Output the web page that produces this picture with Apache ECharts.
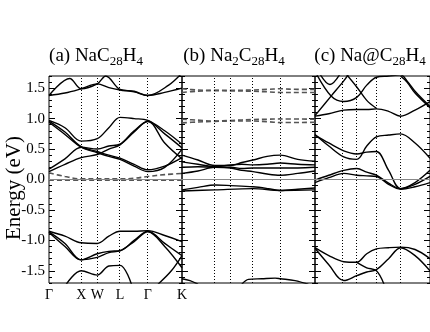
<!DOCTYPE html>
<html>
<head>
<meta charset="utf-8">
<script src="https://cdn.jsdelivr.net/npm/echarts@6/dist/echarts.min.js"></script>
<style>
  html, body { margin: 0; padding: 0; background: #fff; }
  #chart { width: 430px; height: 332px; }
</style>
</head>
<body>
<div id="chart"></div>
<script>
// k-path (fraction of path length) and labels
const K_TICKS = [0, 0.242, 0.363, 0.534, 0.743, 1];
const K_LABELS = ['Γ', 'X', 'W', 'L', 'Γ', 'K'];
const E_TICKS = [-1.5, -1, -0.5, 0, 0.5, 1, 1.5];

// (a) NaC28H4 - solid bands, [k, E]
const A_BANDS = [
  [[0, 1.38], [0.12, 1.42], [0.242, 1.49], [0.363, 1.57], [0.45, 1.51], [0.534, 1.47], [0.64, 1.44], [0.743, 1.38], [0.87, 1.43], [1, 1.5]],
  [[0, 1.38], [0.156, 1.66], [0.242, 1.49], [0.363, 1.57], [0.427, 1.7], [0.534, 1.48], [0.64, 1.45], [0.743, 1.38], [0.9, 1.55], [1, 1.75]],
  [[0, 0.97], [0.12, 0.85], [0.242, 0.63], [0.363, 0.67], [0.45, 0.85], [0.534, 1.02], [0.64, 1.0], [0.743, 0.97], [0.87, 0.8], [1, 0.58]],
  [[0, 0.96], [0.12, 0.78], [0.242, 0.54], [0.363, 0.46], [0.45, 0.4], [0.534, 0.35], [0.64, 0.25], [0.743, 0.16], [0.87, 0.22], [1, 0.36]],
  [[0, 0.94], [0.12, 0.74], [0.242, 0.53], [0.363, 0.44], [0.45, 0.38], [0.534, 0.33], [0.64, 0.22], [0.743, 0.13], [0.87, 0.2], [1, 0.5]],
  [[0, 0.17], [0.12, 0.34], [0.242, 0.53], [0.363, 0.5], [0.45, 0.55], [0.534, 0.58], [0.64, 0.8], [0.743, 0.95], [0.87, 0.75], [1, 0.52]],
  [[0, 0.13], [0.12, 0.25], [0.242, 0.36], [0.363, 0.41], [0.45, 0.5], [0.534, 0.57], [0.64, 0.78], [0.743, 0.96], [0.87, 0.6], [1, 0.34]],
  [[0, -0.85], [0.12, -0.93], [0.242, -1.04], [0.363, -1.05], [0.45, -0.93], [0.534, -0.85], [0.64, -0.85], [0.743, -0.84], [0.87, -0.92], [1, -1.02]],
  [[0, -0.86], [0.12, -1.05], [0.242, -1.32], [0.363, -1.22], [0.45, -1.18], [0.534, -1.17], [0.64, -1.0], [0.743, -0.85], [0.87, -1.05], [1, -1.25]],
  [[0, -0.87], [0.12, -1.1], [0.242, -1.32], [0.363, -1.28], [0.45, -1.2], [0.534, -1.17], [0.64, -1.02], [0.743, -0.86], [0.87, -1.1], [1, -1.45]],
  [[0.13, -1.72], [0.242, -1.5], [0.363, -1.57], [0.45, -1.42], [0.534, -1.41], [0.62, -1.72]],
  [[0.82, -1.72], [0.92, -1.5], [1, -1.25]]
];
// (a) dashed bands
const A_DASH = [
  [[0, 0.11], [0.12, 0.05], [0.242, 0.01], [0.363, 0.01], [0.534, 0.01], [0.64, 0.02], [0.743, 0.05], [0.87, 0.08], [1, 0.1]],
  [[0, -0.01], [0.242, -0.01], [0.534, -0.01], [0.743, -0.01], [1, -0.01]]
];

// (b) Na2C28H4
const B_BANDS = [
  [[0, 0.4], [0.12, 0.32], [0.246, 0.23], [0.366, 0.23], [0.45, 0.28], [0.534, 0.32], [0.64, 0.38], [0.739, 0.4], [0.87, 0.33], [1, 0.3]],
  [[0, 0.29], [0.12, 0.25], [0.246, 0.21], [0.366, 0.24], [0.45, 0.25], [0.534, 0.24], [0.64, 0.25], [0.739, 0.27], [0.87, 0.25], [1, 0.24]],
  [[0, 0.2], [0.12, 0.21], [0.246, 0.2], [0.366, 0.2], [0.45, 0.18], [0.534, 0.19], [0.64, 0.19], [0.739, 0.19], [0.87, 0.19], [1, 0.2]],
  [[0, 0.1], [0.12, 0.14], [0.246, 0.2], [0.366, 0.19], [0.45, 0.15], [0.534, 0.13], [0.64, 0.09], [0.739, 0.07], [0.87, 0.1], [1, 0.14]],
  [[0, -0.17], [0.12, -0.13], [0.25, -0.09], [0.366, -0.1], [0.534, -0.12], [0.65, -0.15], [0.739, -0.18], [0.87, -0.16], [1, -0.14]],
  [[0, -0.19], [0.25, -0.17], [0.534, -0.15], [0.739, -0.18], [1, -0.17]],
  [[0, -1.63], [0.06, -1.66], [0.12, -1.72]],
  [[0.45, -1.72], [0.5, -1.64], [0.6, -1.63], [0.7, -1.62], [0.74, -1.63], [0.85, -1.66], [0.95, -1.72]]
];
const B_DASH = [
  [[0, 1.49], [0.12, 1.47], [0.246, 1.465], [0.366, 1.465], [0.534, 1.47], [0.64, 1.48], [0.739, 1.49], [0.87, 1.48], [1, 1.48]],
  [[0, 1.43], [0.12, 1.45], [0.246, 1.46], [0.366, 1.455], [0.534, 1.45], [0.64, 1.44], [0.739, 1.43], [0.87, 1.43], [1, 1.43]],
  [[0, 0.99], [0.12, 0.975], [0.246, 0.96], [0.366, 0.97], [0.534, 0.985], [0.64, 0.99], [0.739, 0.995], [1, 0.99]],
  [[0, 0.93], [0.12, 0.945], [0.246, 0.955], [0.366, 0.96], [0.534, 0.96], [0.64, 0.95], [0.739, 0.935], [1, 0.94]]
];

// (c) Na@C28H4
const C_BANDS = [
  [[0, 1.04], [0.12, 1.08], [0.25, 1.14], [0.363, 1.15], [0.45, 1.15], [0.534, 1.16], [0.64, 1.12], [0.744, 1.04], [0.87, 1.14], [1, 1.28]],
  [[0, 1.05], [0.14, 1.37], [0.25, 1.62], [0.3, 1.75]],
  [[0, 1.78], [0.14, 1.37], [0.25, 1.28], [0.363, 1.35], [0.45, 1.55], [0.534, 1.68], [0.64, 1.7], [0.744, 1.72], [0.8, 1.62], [0.87, 1.45], [1, 1.2]],
  [[0.25, 1.78], [0.363, 1.52], [0.45, 1.3], [0.534, 1.17]],
  [[0.04, 1.74], [0.13, 1.56], [0.22, 1.74]],
  [[0.744, 1.7], [0.8, 1.6], [0.87, 1.42], [1, 1.18]],
  [[0, 0.74], [0.12, 0.55], [0.25, 0.37], [0.363, 0.33], [0.45, 0.55], [0.534, 0.7], [0.64, 0.73], [0.744, 0.75], [0.87, 0.6], [1, 0.35]],
  [[0, 0.73], [0.12, 0.6], [0.25, 0.47], [0.363, 0.42], [0.45, 0.45], [0.534, 0.46], [0.64, 0.15], [0.744, -0.15], [0.87, -0.05], [1, 0.15]],
  [[0, -0.01], [0.12, 0.07], [0.25, 0.15], [0.363, 0.18], [0.45, 0.12], [0.534, 0.07], [0.64, -0.06], [0.744, -0.15], [0.87, -0.08], [1, 0.05]],
  [[0, -0.05], [0.12, 0.03], [0.25, 0.1], [0.363, 0.07], [0.45, 0.06], [0.534, 0.05], [0.64, -0.08], [0.744, -0.16], [0.87, -0.12], [1, -0.05]],
  [[0, -1.12], [0.12, -1.25], [0.25, -1.35], [0.363, -1.36], [0.45, -1.22], [0.534, -1.14], [0.64, -1.12], [0.744, -1.11], [0.87, -1.15], [1, -1.3]],
  [[0, -1.13], [0.12, -1.4], [0.25, -1.66], [0.363, -1.58], [0.45, -1.52], [0.534, -1.48], [0.64, -1.3], [0.744, -1.12], [0.87, -1.25], [1, -1.5]],
  [[0.363, -1.36], [0.45, -1.45], [0.534, -1.5], [0.6, -1.72]]
];

const SERIF = '"Liberation Serif", "DejaVu Serif", serif';
const PANELS = [
  { left: 49, bands: A_BANDS, dash: A_DASH, labels: true },
  { left: 182, bands: B_BANDS, dash: B_DASH, labels: false },
  { left: 315, bands: C_BANDS, dash: [], labels: false }
];

const grid = [], xAxis = [], yAxis = [], series = [];
PANELS.forEach((p, i) => {
  grid.push({ left: p.left, top: 76, width: 133, height: 207, show: true, borderColor: '#000', borderWidth: 1 });
  xAxis.push({
    type: 'value', gridIndex: i, min: 0, max: 1,
    axisLine: { show: false }, splitLine: { show: false }, axisTick: { show: false },
    axisLabel: {
      show: p.labels, customValues: K_TICKS, margin: 5,
      formatter: (v) => K_LABELS[K_TICKS.indexOf(v)] || '',
      fontFamily: SERIF, fontSize: 14, color: '#000'
    }
  });
  const yBase = yAxis.length;
  ['left', 'right'].forEach((pos) => {
    // major ticks
    yAxis.push({
      type: 'value', gridIndex: i, position: pos, min: -1.7, max: 1.7,
      axisLine: { show: false }, splitLine: { show: false },
      axisTick: { show: true, inside: true, length: 6, customValues: E_TICKS, lineStyle: { color: '#000' } },
      axisLabel: {
        show: i === 0 && pos === 'left', customValues: E_TICKS, margin: 4,
        formatter: (v) => v.toFixed(1), fontFamily: SERIF, fontSize: 15, color: '#000'
      }
    });
    // minor ticks
    yAxis.push({
      type: 'value', gridIndex: i, position: pos, min: -1.7, max: 1.7, interval: 0.1,
      axisLine: { show: false }, splitLine: { show: false }, axisLabel: { show: false },
      axisTick: { show: true, inside: true, length: 3, lineStyle: { color: '#000' } }
    });
  });
  // reference lines: high-symmetry points and Fermi level
  series.push({
    type: 'line', xAxisIndex: i, yAxisIndex: yBase, data: [], silent: true,
    markLine: {
      silent: true, symbol: ['none', 'none'], label: { show: false }, animation: false,
      data: [
        ...K_TICKS.slice(1, 5).map((k) => ({ xAxis: k, lineStyle: { color: '#000', type: [1, 2], width: 1 } })),
        { yAxis: 0, lineStyle: { color: '#888', type: 'solid', width: 1 } }
      ]
    }
  });
  p.bands.forEach((b) => {
    series.push({
      type: 'line', xAxisIndex: i, yAxisIndex: yBase, data: b, showSymbol: false, smooth: 0.35,
      lineStyle: { color: '#000', width: 1.4 }, silent: true, z: 3
    });
  });
  p.dash.forEach((b) => {
    series.push({
      type: 'line', xAxisIndex: i, yAxisIndex: yBase, data: b, showSymbol: false, smooth: 0.35,
      lineStyle: { color: '#555', width: 1.6, type: [5, 3] }, silent: true, z: 3
    });
  });
});

const titleRich = {
  n: { fontFamily: SERIF, fontSize: 19, lineHeight: 20, color: '#000' },
  s: { fontFamily: SERIF, fontSize: 13, lineHeight: 14, padding: [12, 0, 0, 0], color: '#000' }
};
const TITLES = [
  { x: 96, text: '{n|(a) NaC}{s|28}{n|H}{s|4}' },
  { x: 234, text: '{n|(b) Na}{s|2}{n|C}{s|28}{n|H}{s|4}' },
  { x: 370, text: '{n|(c) Na@C}{s|28}{n|H}{s|4}' }
];

const chart = echarts.init(document.getElementById('chart'), null, { renderer: 'canvas' });
chart.setOption({
  animation: false,
  backgroundColor: '#fff',
  grid, xAxis, yAxis, series,
  graphic: [
    ...TITLES.map((t) => ({
      type: 'text', x: t.x, y: 56,
      style: { text: t.text, align: 'center', verticalAlign: 'middle', rich: titleRich }
    })),
    {
      type: 'text', x: 14, y: 188, rotation: Math.PI / 2,
      style: { text: 'Energy (eV)', align: 'center', verticalAlign: 'middle', font: '21px ' + SERIF, fill: '#000' }
    }
  ]
});
</script>
</body>
</html>
